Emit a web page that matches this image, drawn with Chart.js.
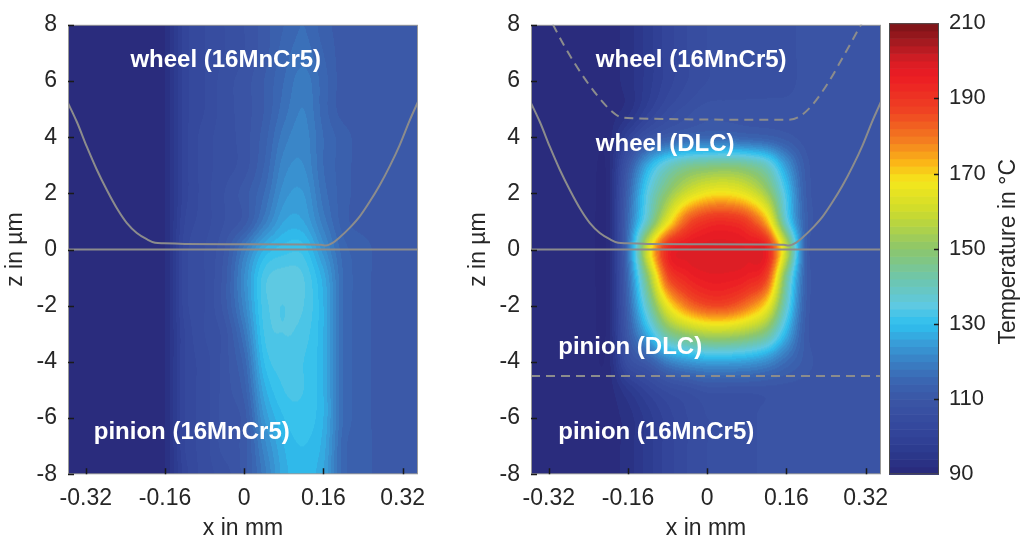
<!DOCTYPE html>
<html>
<head>
<meta charset="utf-8">
<script src="https://cdn.jsdelivr.net/npm/chart.js@4.4.1/dist/chart.umd.min.js"></script>
<style>
  html, body { margin: 0; padding: 0; background: #fff; }
  #wrap { position: relative; width: 1030px; height: 538px; overflow: hidden; }
  #wrap canvas { position: absolute; top: 0; }
</style>
</head>
<body>
<div id="wrap">
  <canvas id="steel" width="440" height="538" style="left:0px"></canvas>
  <canvas id="dlc" width="440" height="538" style="left:463px"></canvas>
  <canvas id="cbar" width="150" height="538" style="left:880px"></canvas>
</div>
<script>
// grid positions of the temperature readings
const X_GRID = [-0.36, -0.32, -0.28, -0.24, -0.20, -0.16, -0.12, -0.08, -0.04, 0,
                0.04, 0.08, 0.12, 0.16, 0.20, 0.24, 0.28, 0.32, 0.36];
const Z_GRID = [8, 7, 6, 5, 4, 3, 2, 1, 0, -1, -2, -3, -4, -5, -6, -7, -8];

// temperature in °C, uncoated steel/steel contact (rows z = 8 ... -8)
const TEMP_STEEL = [
  [91, 91, 91, 91, 91, 92, 101, 104, 106, 108, 111, 114, 116, 113, 111, 111, 111, 111, 111],
  [91, 91, 91, 91, 91, 92, 101, 104, 106, 108, 111, 115, 117, 114, 111, 111, 111, 111, 111],
  [91, 91, 91, 91, 91, 92, 101, 104, 107, 109, 112, 116, 119, 115, 111, 111, 111, 111, 111],
  [91, 91, 91, 91, 91, 92, 101, 104, 107, 109, 112, 117, 120, 115, 111, 111, 111, 111, 111],
  [91, 91, 91, 91, 91, 92, 101, 105, 107, 109, 113, 119, 121, 116, 113, 111, 111, 111, 111],
  [91, 91, 91, 91, 91, 92, 101, 105, 107, 109, 114, 121, 122, 116, 113, 111, 111, 111, 111],
  [91, 91, 91, 91, 91, 92, 101, 105, 108, 111, 116, 123, 124, 117, 113, 111, 111, 111, 111],
  [91, 91, 91, 91, 91, 92, 102, 105, 108, 111, 119, 126, 126, 119, 113, 111, 111, 111, 111],
  [91, 91, 91, 91, 91, 92, 103, 106, 110, 119, 128, 131, 131, 123, 115, 113, 111, 111, 111],
  [91, 91, 91, 91, 91, 92, 103, 106, 111, 122, 133, 135, 134, 127, 116, 113, 111, 111, 111],
  [91, 91, 91, 91, 91, 92, 103, 106, 111, 121, 133, 134, 134, 128, 116, 113, 111, 111, 111],
  [91, 91, 91, 91, 91, 92, 102, 106, 109, 118, 132, 134, 133, 128, 116, 113, 111, 111, 111],
  [91, 91, 91, 91, 91, 92, 102, 105, 109, 115, 130, 133, 132, 128, 116, 113, 111, 111, 111],
  [91, 91, 91, 91, 91, 92, 102, 105, 109, 113, 127, 132, 132, 128, 116, 113, 111, 111, 111],
  [91, 91, 91, 91, 91, 92, 102, 105, 109, 111, 124, 130, 131, 128, 116, 113, 111, 111, 111],
  [91, 91, 91, 91, 91, 92, 102, 105, 109, 111, 121, 128, 130, 127, 115, 113, 111, 111, 111],
  [91, 91, 91, 91, 91, 92, 101, 105, 107, 111, 119, 127, 129, 126, 115, 113, 111, 111, 111]
];

// temperature in °C, DLC coated contact (rows z = 8 ... -8)
const TEMP_DLC = [
  [91, 91, 91, 91, 91, 93, 97, 101, 104, 106, 107, 107, 107, 107, 109, 109, 109, 109, 109],
  [91, 91, 91, 91, 91, 93, 97, 101, 104, 106, 107, 107, 107, 107, 109, 109, 109, 109, 109],
  [91, 91, 91, 91, 91, 93, 97, 101, 104, 106, 107, 107, 107, 107, 109, 109, 109, 109, 109],
  [91, 91, 91, 91, 91, 93, 99, 104, 107, 109, 109, 109, 109, 109, 109, 109, 109, 109, 109],
  [91, 91, 91, 91, 91, 100, 108, 112, 114, 115, 115, 114, 113, 111, 109, 109, 109, 109, 109],
  [91, 91, 91, 91, 91, 110, 127, 138, 144, 146, 147, 145, 139, 124, 111, 109, 109, 109, 109],
  [91, 91, 91, 91, 91, 114, 135, 150, 161, 167, 168, 164, 153, 132, 112, 109, 109, 109, 109],
  [91, 91, 91, 91, 91, 116, 140, 165, 184, 191, 192, 188, 173, 137, 113, 109, 109, 109, 109],
  [91, 91, 91, 91, 91, 118, 162, 193, 198, 199, 199, 198, 195, 158, 113, 109, 109, 109, 109],
  [91, 91, 91, 91, 91, 116, 150, 185, 194, 197, 197, 195, 187, 145, 113, 109, 109, 109, 109],
  [91, 91, 91, 91, 91, 114, 140, 166, 180, 186, 186, 180, 168, 138, 112, 109, 109, 109, 109],
  [91, 91, 91, 91, 91, 111, 128, 145, 152, 156, 156, 153, 146, 128, 111, 109, 109, 109, 109],
  [91, 91, 91, 91, 91, 106, 112, 120, 124, 126, 126, 125, 122, 116, 111, 109, 109, 109, 109],
  [91, 91, 91, 91, 91, 96, 101, 105, 107, 109, 109, 109, 109, 109, 109, 109, 109, 109, 109],
  [91, 91, 91, 91, 91, 93, 97, 101, 104, 106, 107, 107, 109, 109, 109, 109, 109, 109, 109],
  [91, 91, 91, 91, 91, 93, 97, 101, 104, 106, 107, 107, 109, 109, 109, 109, 109, 109, 109],
  [91, 91, 91, 91, 91, 93, 97, 101, 104, 106, 107, 107, 109, 109, 109, 109, 109, 109, 109]
];

// wheel surface profile
const PROFILE_X = [-0.358, -0.338, -0.318, -0.298, -0.277, -0.257, -0.237, -0.217, -0.196, -0.180,
                   -0.163, -0.12, 0, 0.12, 0.155, 0.165, 0.179, 0.192, 0.213, 0.233,
                   0.253, 0.273, 0.294, 0.314, 0.334, 0.351];
const PROFILE_Z = [5.29, 4.54, 3.66, 2.85, 2.10, 1.46, 0.94, 0.59, 0.36, 0.24,
                   0.22, 0.20, 0.19, 0.18, 0.17, 0.14, 0.24, 0.42, 0.77, 1.17,
                   1.69, 2.27, 2.97, 3.72, 4.59, 5.26];
// pinion surface
const PINION_X = [-0.356, 0.351];
const PINION_Z = [0, 0];
// DLC / steel boundary of the wheel coating
const COAT_X = [-0.312, -0.289, -0.255, -0.221, -0.194, -0.174, -0.147, 0.163, 0.184, 0.211, 0.244, 0.278, 0.312];
const COAT_Z = [8.02, 7.26, 6.28, 5.46, 4.94, 4.71, 4.67, 4.62, 4.71, 5.12, 5.93, 6.97, 8.05];
// DLC / steel boundary of the pinion coating
const PINION_COAT_X = [-0.356, 0.351];
const PINION_COAT_Z = [-4.5, -4.5];

const X_TICKS = [-0.32, -0.16, 0, 0.16, 0.32];
const Z_TICKS = [-8, -6, -4, -2, 0, 2, 4, 6, 8];
const TEMP_TICKS = [90, 110, 130, 150, 170, 190, 210];

const LABELS_STEEL = [
  { text: 'wheel (16MnCr5)', x: -0.230, z: 6.74 },
  { text: 'pinion (16MnCr5)', x: -0.304, z: -6.52 }
];
const LABELS_DLC = [
  { text: 'wheel (16MnCr5)', x: -0.225, z: 6.74 },
  { text: 'wheel (DLC)', x: -0.225, z: 3.73 },
  { text: 'pinion (DLC)', x: -0.301, z: -3.47 },
  { text: 'pinion (16MnCr5)', x: -0.301, z: -6.52 }
];

// colour map of the colour bar
const CMAP = [
  [90, '#29297a'], [96, '#2c3a8e'], [102, '#34479c'], [110, '#3b56a6'], [115, '#3a66b2'],
  [120, '#3a80c4'], [125, '#389dd8'], [130, '#2ec0ef'], [135, '#5ec9e2'], [142, '#6ec6ae'],
  [150, '#8cc66c'], [160, '#cddc2d'], [168, '#f5e81c'], [173, '#fbb617'], [179, '#f47d20'],
  [187, '#ef4223'], [196, '#ec1c24'], [200, '#d81e25'], [205, '#a51a20'], [210, '#7a1418']
];
const T_MIN = 90, T_MAX = 210, LEVEL = 2;

const FONT = "'Liberation Sans', Arial, Helvetica, sans-serif";
Chart.defaults.font.family = FONT;
Chart.defaults.font.size = 23;
Chart.defaults.color = '#262626';

const cmapRgb = CMAP.map(([v, hex]) => [v, parseInt(hex.slice(1, 3), 16), parseInt(hex.slice(3, 5), 16), parseInt(hex.slice(5, 7), 16)]);

function colorAt(v) {
  v = Math.max(T_MIN, Math.min(T_MAX, v));
  for (let i = 0; i < cmapRgb.length - 1; i++) {
    const a = cmapRgb[i], b = cmapRgb[i + 1];
    if (v <= b[0]) {
      const t = (v - a[0]) / (b[0] - a[0]);
      return [a[1] + (b[1] - a[1]) * t, a[2] + (b[2] - a[2]) * t, a[3] + (b[3] - a[3]) * t];
    }
  }
  const l = cmapRgb[cmapRgb.length - 1];
  return [l[1], l[2], l[3]];
}

// filled contour level, like contourf
function levelOf(v) {
  const k = Math.floor((v - T_MIN) / LEVEL);
  return Math.max(T_MIN, Math.min(T_MAX, T_MIN + (k + 0.5) * LEVEL));
}

function locate(arr, v) {
  for (let i = 0; i < arr.length - 1; i++) {
    const a = arr[i], b = arr[i + 1];
    if ((v - a) * (v - b) <= 0) return [i, (v - a) / (b - a)];
  }
  const down = arr[0] > arr[arr.length - 1];
  const before = down ? v > arr[0] : v < arr[0];
  return before ? [0, 0] : [arr.length - 2, 1];
}

// Catmull-Rom weights for the shading between readings
function cubicWeights(t) {
  const t2 = t * t, t3 = t2 * t;
  return [(-t3 + 2 * t2 - t) / 2, (3 * t3 - 5 * t2 + 2) / 2, (-3 * t3 + 4 * t2 + t) / 2, (t3 - t2) / 2];
}

function sample(grid, xv, zv) {
  const [i, tx] = locate(X_GRID, xv);
  const [j, tz] = locate(Z_GRID, zv);
  const wx = cubicWeights(tx), wz = cubicWeights(tz);
  const nx = X_GRID.length, nz = Z_GRID.length;
  let v = 0;
  for (let b = 0; b < 4; b++) {
    const r = grid[Math.max(0, Math.min(nz - 1, j - 1 + b))];
    let row = 0;
    for (let a = 0; a < 4; a++) row += wx[a] * r[Math.max(0, Math.min(nx - 1, i - 1 + a))];
    v += wz[b] * row;
  }
  return v;
}

const points = (xs, zs) => xs.map((x, i) => ({ x, y: zs[i] }));

function fieldPlugin(grid) {
  return {
    id: 'field',
    beforeDatasetsDraw(chart) {
      const { ctx, chartArea: a, scales: { x, y } } = chart;
      const w = Math.round(a.right - a.left), h = Math.round(a.bottom - a.top);
      const off = document.createElement('canvas');
      off.width = w; off.height = h;
      const octx = off.getContext('2d');
      const img = octx.createImageData(w, h);
      for (let j = 0; j < h; j++) {
        const zv = y.getValueForPixel(a.top + j + 0.5);
        for (let i = 0; i < w; i++) {
          const xv = x.getValueForPixel(a.left + i + 0.5);
          const c = colorAt(levelOf(sample(grid, xv, zv)));
          const k = (j * w + i) * 4;
          img.data[k] = c[0]; img.data[k + 1] = c[1]; img.data[k + 2] = c[2]; img.data[k + 3] = 255;
        }
      }
      octx.putImageData(img, 0, 0);
      ctx.drawImage(off, a.left, a.top, a.right - a.left, a.bottom - a.top);
    }
  };
}

function overlayPlugin(labels) {
  return {
    id: 'overlay',
    afterDatasetsDraw(chart) {
      const { ctx, chartArea: a, scales: { x, y } } = chart;
      ctx.save();
      // region names
      ctx.fillStyle = '#ffffff';
      ctx.font = 'bold 24px ' + FONT;
      ctx.textBaseline = 'middle';
      ctx.textAlign = 'left';
      labels.forEach(l => ctx.fillText(l.text, x.getPixelForValue(l.x), y.getPixelForValue(l.z)));
      // frame
      ctx.strokeStyle = '#9a9a9a';
      ctx.lineWidth = 1;
      ctx.strokeRect(a.left + 0.5, a.top + 0.5, a.right - a.left - 1, a.bottom - a.top - 1);
      // inward tick marks
      ctx.strokeStyle = '#1a1a1a';
      ctx.lineWidth = 1.5;
      ctx.beginPath();
      X_TICKS.forEach(v => {
        const px = Math.round(x.getPixelForValue(v)) + 0.5;
        ctx.moveTo(px, a.bottom); ctx.lineTo(px, a.bottom - 6);
      });
      Z_TICKS.forEach(v => {
        const py = Math.round(y.getPixelForValue(v)) + 0.5;
        ctx.moveTo(a.left, py); ctx.lineTo(a.left + 6, py);
      });
      ctx.stroke();
      ctx.restore();
    }
  };
}

function makePanel(id, grid, lineSets, labels) {
  return new Chart(document.getElementById(id), {
    type: 'scatter',
    data: {
      datasets: lineSets.map(s => ({
        data: s.data,
        showLine: true,
        borderColor: '#8c8c8c',
        borderWidth: 2,
        borderDash: s.dash || [],
        pointRadius: 0,
        cubicInterpolationMode: 'monotone'
      }))
    },
    options: {
      responsive: false,
      animation: false,
      events: [],
      layout: { padding: { left: 0, right: 22, top: 15.7, bottom: 0 } },
      plugins: { legend: { display: false }, tooltip: { enabled: false } },
      scales: {
        x: {
          type: 'linear',
          min: -0.356,
          max: 0.351,
          afterBuildTicks: s => { s.ticks = X_TICKS.map(v => ({ value: v })); },
          afterFit: s => { s.height = 63.7; },
          grid: { display: false, drawTicks: false },
          border: { display: false },
          ticks: { padding: 11, maxRotation: 0, autoSkip: false, callback: v => String(v) },
          title: { display: true, text: 'x in mm', font: { size: 23, lineHeight: 1 }, padding: { top: 0, bottom: -2 } }
        },
        y: {
          min: -8,
          max: 8,
          afterBuildTicks: s => { s.ticks = Z_TICKS.map(v => ({ value: v })); },
          afterFit: s => { s.width = 68; },
          grid: { display: false, drawTicks: false },
          border: { display: false },
          ticks: { padding: 11, callback: v => String(v) },
          title: { display: true, text: 'z in µm', font: { size: 23, lineHeight: 1 }, padding: { top: 4, bottom: 0 } }
        }
      }
    },
    plugins: [fieldPlugin(grid), overlayPlugin(labels)]
  });
}

makePanel('steel', TEMP_STEEL, [
  { data: points(PROFILE_X, PROFILE_Z) },
  { data: points(PINION_X, PINION_Z) }
], LABELS_STEEL);

makePanel('dlc', TEMP_DLC, [
  { data: points(PROFILE_X, PROFILE_Z) },
  { data: points(PINION_X, PINION_Z) },
  { data: points(COAT_X, COAT_Z), dash: [9, 6] },
  { data: points(PINION_COAT_X, PINION_COAT_Z), dash: [9, 6] }
], LABELS_DLC);

// colour bar
new Chart(document.getElementById('cbar'), {
  type: 'scatter',
  data: { datasets: [{ data: [] }] },
  options: {
    responsive: false,
    animation: false,
    events: [],
    layout: { padding: { left: 9, right: 0, top: 15.7, bottom: 63.7 } },
    plugins: { legend: { display: false }, tooltip: { enabled: false } },
    scales: {
      x: { display: false, min: 0, max: 1 },
      y: {
        position: 'right',
        min: T_MIN,
        max: T_MAX,
        afterBuildTicks: s => { s.ticks = TEMP_TICKS.map(v => ({ value: v })); },
        afterFit: s => { s.width = 91; },
        grid: { display: false, drawTicks: false },
        border: { display: false },
        ticks: { padding: 10, font: { size: 22 } }
      }
    }
  },
  plugins: [{
    id: 'colorbar',
    beforeDatasetsDraw(chart) {
      const { ctx, chartArea: a, scales: { y } } = chart;
      ctx.save();
      for (let v = T_MIN; v < T_MAX; v += LEVEL) {
        const c = colorAt(v + LEVEL / 2);
        const y1 = y.getPixelForValue(v), y2 = y.getPixelForValue(v + LEVEL);
        ctx.fillStyle = `rgb(${c[0] | 0},${c[1] | 0},${c[2] | 0})`;
        ctx.fillRect(a.left, y2, a.right - a.left, y1 - y2 + 0.6);
      }
      ctx.strokeStyle = '#4a4a4a';
      ctx.lineWidth = 1;
      ctx.strokeRect(a.left + 0.5, a.top + 0.5, a.right - a.left - 1, a.bottom - a.top - 1);
      ctx.strokeStyle = '#1a1a1a';
      ctx.lineWidth = 1.5;
      ctx.beginPath();
      TEMP_TICKS.slice(1, -1).forEach(v => {
        const py = Math.round(y.getPixelForValue(v)) + 0.5;
        ctx.moveTo(a.right, py); ctx.lineTo(a.right - 5, py);
      });
      ctx.stroke();
      // colour bar title, reading upwards
      ctx.translate(a.right + 70, (a.top + a.bottom) / 2 + 3);
      ctx.rotate(-Math.PI / 2);
      ctx.fillStyle = '#262626';
      ctx.font = '23px ' + FONT;
      ctx.textAlign = 'center';
      ctx.textBaseline = 'middle';
      ctx.fillText('Temperature in °C', 0, 0);
      ctx.restore();
    }
  }]
});
</script>
</body>
</html>
